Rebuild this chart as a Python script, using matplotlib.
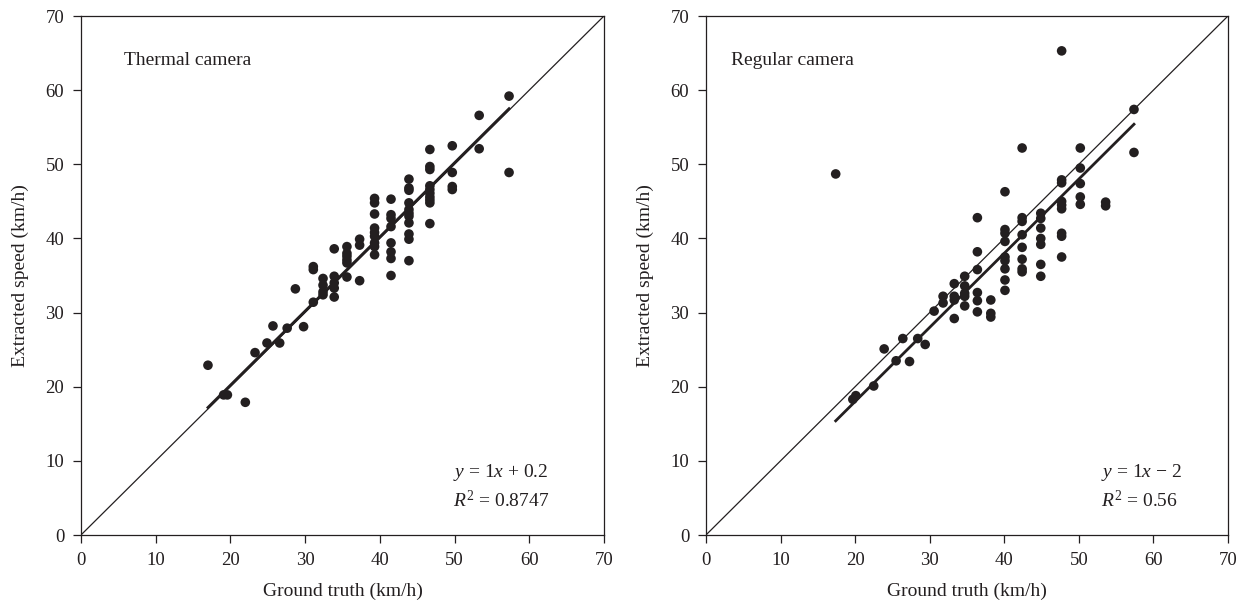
import numpy as np
import matplotlib
matplotlib.use("Agg")
import matplotlib.pyplot as plt

plt.rcParams['font.family'] = ['Liberation Serif', 'DejaVu Serif']
plt.rcParams['mathtext.fontset'] = 'custom'
plt.rcParams['mathtext.rm'] = 'Liberation Serif'
plt.rcParams['mathtext.it'] = 'Liberation Serif:italic'

# thermal camera: (ground truth, extracted speeds) grouped by ground-truth column
thermal_groups = [
    (17.0, [22.9]),
    (19.1, [18.9]),
    (19.6, [18.9]),
    (22.0, [17.9]),
    (23.3, [24.6]),
    (24.9, [25.9]),
    (25.7, [28.2]),
    (26.6, [25.9]),
    (27.6, [27.9]),
    (28.7, [33.2]),
    (29.8, [28.1]),
    (31.1, [36.2, 35.8, 31.4]),
    (32.4, [34.6, 33.7, 32.8, 32.4]),
    (33.9, [38.6, 34.9, 34.0, 33.3, 32.1]),
    (35.6, [38.9, 38.0, 37.6, 37.1, 36.7, 34.8]),
    (37.3, [39.9, 39.1, 34.3]),
    (39.3, [45.4, 44.8, 43.3, 41.4, 40.8, 40.3, 39.4, 38.9, 37.8]),
    (41.5, [45.3, 43.2, 42.7, 41.6, 39.4, 38.2, 37.3, 35.0]),
    (43.9, [48.0, 46.8, 46.5, 44.8, 43.9, 43.4, 43.0, 42.1, 40.6, 39.9, 37.0]),
    (46.7, [52.0, 49.7, 49.3, 47.1, 46.6, 46.1, 45.6, 45.2, 44.8, 42.0]),
    (49.7, [52.5, 48.9, 47.0, 46.6]),
    (53.3, [56.6, 52.1]),
    (57.3, [59.2, 48.9]),
]

# regular camera
regular_groups = [
    (17.4, [48.7]),
    (19.7, [18.3]),
    (20.1, [18.8]),
    (22.5, [20.1]),
    (23.9, [25.1]),
    (25.5, [23.5]),
    (26.4, [26.5]),
    (27.3, [23.4]),
    (28.4, [26.5]),
    (29.4, [25.7]),
    (30.6, [30.2]),
    (31.8, [32.2, 31.3]),
    (33.3, [33.9, 32.2, 31.7, 29.2]),
    (34.7, [34.9, 33.6, 32.6, 32.2, 30.9]),
    (36.4, [42.8, 38.2, 35.8, 32.7, 31.6, 30.1]),
    (38.2, [31.7, 29.9, 29.4]),
    (40.1, [46.3, 41.2, 40.7, 39.6, 37.5, 37.0, 35.9, 34.4, 33.0]),
    (42.4, [52.2, 42.8, 42.3, 40.5, 38.8, 37.2, 35.9, 35.5]),
    (44.9, [43.4, 42.7, 41.4, 40.0, 39.2, 36.5, 34.9]),
    (47.7, [65.3, 47.9, 47.5, 45.0, 44.5, 44.0, 40.7, 40.3, 37.5]),
    (50.2, [52.2, 49.5, 47.4, 45.6, 44.6]),
    (53.6, [44.9, 44.4]),
    (57.4, [57.4, 51.6]),
]

panel_titles = ["Thermal camera", "Regular camera"]
fit_slopes = [1.0, 1.0]
fit_intercepts = [0.2, -2.0]
eq_texts = [r"$y$ = 1$x$ + 0.2", r"$y$ = 1$x$ − 2"]
r2_texts = [r"$R^2$ = 0.8747", r"$R^2$ = 0.56"]
axis_lim = [0, 70]
ticks = [0, 10, 20, 30, 40, 50, 60, 70]

ink = '#231f20'


def flatten(groups):
    xs, ys = [], []
    for gt, vals in groups:
        for v in vals:
            xs.append(gt)
            ys.append(v)
    return np.array(xs), np.array(ys)


fig = plt.figure(figsize=(12.53, 6.07), dpi=100)
positions = [[0.0646, 0.1186, 0.4174, 0.855], [0.5634, 0.1186, 0.4166, 0.855]]
title_x = [5.8, 3.3]
eq_x = [49.8, 53.0]

for i, groups in enumerate([thermal_groups, regular_groups]):
    ax = fig.add_axes(positions[i])
    x, y = flatten(groups)

    # y = x reference line and fitted line
    ax.plot(axis_lim, axis_lim, color=ink, lw=0.9, zorder=1)
    fx = np.array([x.min(), x.max()])
    ax.plot(fx, fit_slopes[i] * fx + fit_intercepts[i], color=ink, lw=2.0, zorder=2)
    ax.scatter(x, y, s=48, color=ink, edgecolors='none', zorder=3)

    ax.set_xlim(axis_lim)
    ax.set_ylim(axis_lim)
    ax.set_xticks(ticks)
    ax.set_yticks(ticks)
    ax.tick_params(direction='out', length=6, width=0.9, colors=ink,
                   labelsize=13.5, pad=6)
    for sp in ax.spines.values():
        sp.set_linewidth(0.9)
        sp.set_color(ink)

    ax.set_xlabel("Ground truth (km/h)", fontsize=14, color=ink, labelpad=10)
    ax.set_ylabel("Extracted speed (km/h)", fontsize=14, color=ink, labelpad=12)

    ax.text(title_x[i], 64.0, panel_titles[i], fontsize=14, color=ink, va='center')
    ax.text(eq_x[i], 8.4, eq_texts[i], fontsize=14, color=ink, va='center')
    ax.text(eq_x[i], 4.7, r2_texts[i], fontsize=14, color=ink, va='center')

fig.savefig("out.png", dpi=100)
